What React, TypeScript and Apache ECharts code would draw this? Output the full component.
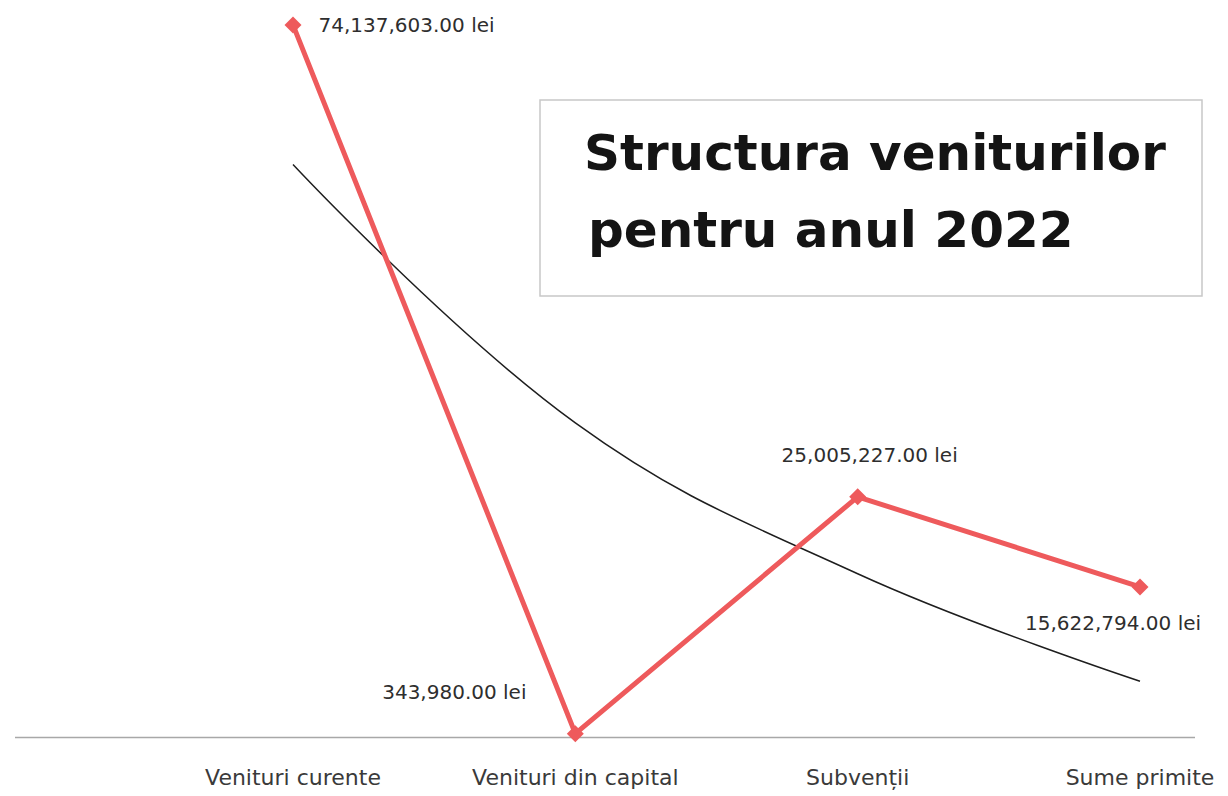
import React, { useEffect, useRef } from "react";
import * as echarts from "echarts";

const categories = ["Venituri curente", "Venituri din capital", "Subvenții", "Sume primite"];
const values = [74137603, 343980, 25005227, 15622794];
const trendValues = [59600000, 32700000, 17000000, 5800000];
const titleLines = ["Structura veniturilor", "pentru anul 2022"];

const labelOffsets: any[] = [
  { position: "right", offset: [12, 0] },
  { position: "top", offset: [-121, -18] },
  { position: "top", offset: [12, -18] },
  { position: "bottom", offset: [-27, 13] },
];

const FONT = "'DejaVu Sans', Verdana, sans-serif";

const fmt = (v: number) =>
  v.toLocaleString("en-US", { minimumFractionDigits: 2, maximumFractionDigits: 2 }) + " lei";

export default function App() {
  const ref = useRef<HTMLDivElement>(null);
  useEffect(() => {
    const chart = echarts.init(ref.current!, null, { renderer: "svg" });
    chart.setOption({
      animation: false,
      backgroundColor: "#ffffff",
      grid: { left: 293, right: 88, top: 7, bottom: 59, containLabel: false },
      xAxis: {
        type: "category",
        data: categories,
        boundaryGap: false,
        axisLine: { show: false },
        axisTick: { show: false },
        axisLabel: {
          margin: 29,
          fontSize: 22,
          color: "#3a3a3a",
          fontFamily: FONT,
        },
      },
      yAxis: {
        type: "value",
        min: 0,
        max: 76000000,
        show: false,
        splitLine: { show: false },
      },
      graphic: [
        {
          type: "line",
          shape: { x1: 15, y1: 737.5, x2: 1195, y2: 737.5 },
          style: { stroke: "#a8a8a8", lineWidth: 1.5 },
          z: 1,
        },
        {
          type: "rect",
          shape: { x: 540, y: 100, width: 662, height: 196 },
          style: { fill: "#ffffff", stroke: "#c8c8c8", lineWidth: 1.5 },
          z: 10,
        },
        {
          type: "text",
          x: 584,
          y: 153,
          style: {
            text: titleLines[0],
            fontSize: 50,
            fontWeight: "bold",
            fontFamily: FONT,
            fill: "#141414",
            verticalAlign: "middle",
            align: "left",
          },
          z: 11,
        },
        {
          type: "text",
          x: 588,
          y: 230,
          style: {
            text: titleLines[1],
            fontSize: 50,
            fontWeight: "bold",
            fontFamily: FONT,
            fill: "#141414",
            verticalAlign: "middle",
            align: "left",
          },
          z: 11,
        },
      ],
      series: [
        {
          name: "Trend",
          type: "line",
          data: trendValues,
          smooth: 0.4,
          symbol: "none",
          lineStyle: { color: "#1e1e1e", width: 1.5 },
          z: 2,
        },
        {
          name: "Venituri",
          type: "line",
          data: values.map((v, i) => ({
            value: v,
            label: {
              show: true,
              position: labelOffsets[i].position,
              offset: labelOffsets[i].offset,
            },
          })),
          symbol: "diamond",
          symbolSize: 17,
          itemStyle: { color: "#ee5a5c" },
          lineStyle: { color: "#ee5a5c", width: 5 },
          label: {
            show: true,
            formatter: (p: any) => fmt(p.value),
            fontSize: 20,
            color: "#2e2e2e",
            fontFamily: FONT,
          },
          z: 3,
        },
      ],
    });
    return () => chart.dispose();
  }, []);
  return (
    <div
      ref={ref}
      style={{ position: "absolute", left: 0, top: 0, width: 1228, height: 796 }}
    />
  );
}
